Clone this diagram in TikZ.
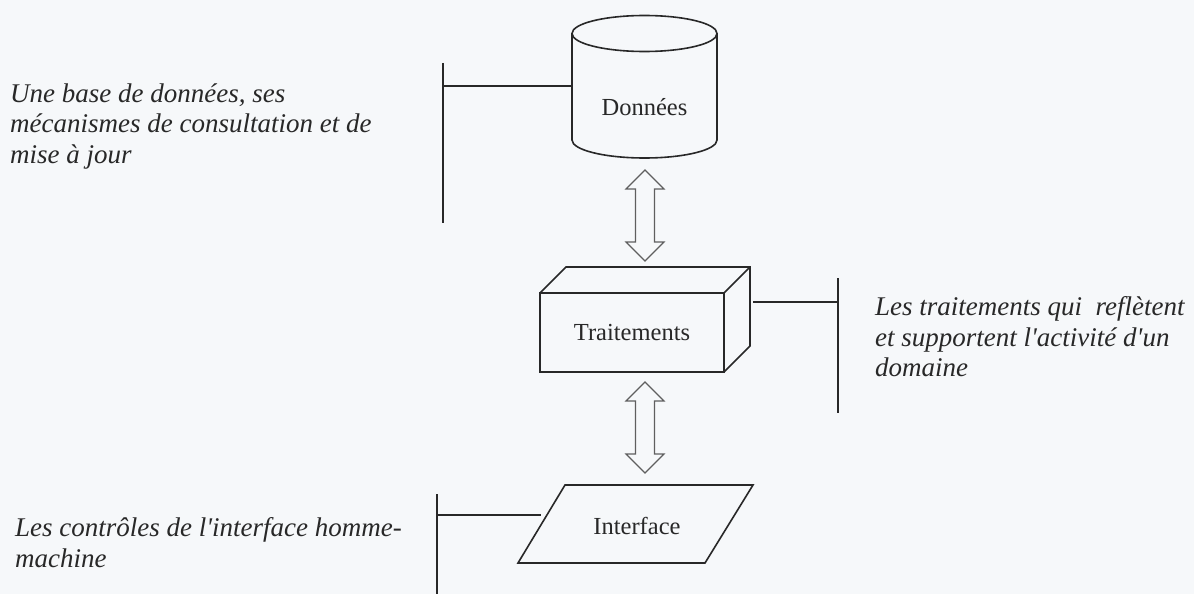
\documentclass[tikz,border=0pt]{standalone}
\usepackage{fontspec}
\setmainfont{Liberation Serif}[Ligatures=TeXOff]
\usetikzlibrary{calc}
\definecolor{paper}{RGB}{246,248,250}
\definecolor{ink}{RGB}{40,40,40}
\definecolor{arrowink}{RGB}{95,95,95}
\newcommand\fatdbl[2]{%
  \draw[fatarrow] let \p1=(#1), \p2=(#2) in
    (\x1,\y1) -- ({\x1+19pt},{\y1-19pt}) -- ({\x1+9.5pt},{\y1-19pt})
    -- ({\x1+9.5pt},{\y2+19pt}) -- ({\x1+19pt},{\y2+19pt}) -- (\x1,\y2)
    -- ({\x1-19pt},{\y2+19pt}) -- ({\x1-9.5pt},{\y2+19pt})
    -- ({\x1-9.5pt},{\y1-19pt}) -- ({\x1-19pt},{\y1-19pt}) -- cycle;}
\begin{document}
\begin{tikzpicture}[x=1pt,y=1pt,
  shapeline/.style={draw=ink, line width=1.6pt, line join=miter},
  conn/.style={draw=ink, line width=1.6pt},
  fatarrow/.style={draw=arrowink, line width=1.1pt, fill=paper},
  lbl/.style={text=ink, font=\fontsize{24.5}{30}\selectfont, inner sep=0pt},
  note/.style={text=ink, font=\itshape\fontsize{27}{30.5}\selectfont, align=left, inner sep=0pt, anchor=north west}]
\fill[paper] (0,0) rectangle (1194,-594);
\useasboundingbox (0,0) rectangle (1194,-594);

% --- cylinder (Données)
\draw[shapeline] (644.5,-33.5) ellipse[x radius=72.5, y radius=18];
\draw[shapeline] (572,-33.5) -- (572,-140)
  arc[start angle=180, end angle=360, x radius=72.5, y radius=18] -- (717,-33.5);
\node[lbl] (db) at (644.5,-107) {Données};

% --- box (Traitements)
\draw[shapeline] (540,-293) rectangle (724,-372);
\draw[shapeline] (540,-293) -- (566,-267) -- (750,-267) -- (750,-346) -- (724,-372)
  (750,-267) -- (724,-293);
\node[lbl] (proc) at (632,-333) {Traitements};

% --- parallelogram (Interface)
\draw[shapeline] (565,-485) -- (753,-485) -- (705,-563) -- (518,-563) -- cycle;
\node[lbl] (ui) at (637,-526) {Interface};

% --- connection points
\coordinate (dbBot) at (645,-170);
\coordinate (procTop) at (645,-261);
\coordinate (procBot) at (645,-382);
\coordinate (uiTop) at (645,-473);
\coordinate (dbLeft) at (572,-86);
\coordinate (barA1) at (443,-63);
\coordinate (barA2) at (443,-223);
\coordinate (barAm) at (443,-86);
\coordinate (procRight) at (753,-302);
\coordinate (barB1) at (838,-278);
\coordinate (barB2) at (838,-413);
\coordinate (barBm) at (838,-302);
\coordinate (uiLeft) at (541,-515);
\coordinate (barC1) at (437,-494);
\coordinate (barC2) at (437,-594);
\coordinate (barCm) at (437,-515);

% --- double arrows
\fatdbl{dbBot}{procTop}
\fatdbl{procBot}{uiTop}

% --- brackets
\draw[conn] (barA1) -- (barA2);
\draw[conn] (barAm) -- (dbLeft);
\draw[conn] (barB1) -- (barB2);
\draw[conn] (procRight) -- (barBm);
\draw[conn] (barC1) -- (barC2);
\draw[conn] (barCm) -- (uiLeft);

% --- notes
\node[note] (n1) at (10,-83.5) {Une base de données, ses\\mécanismes de consultation et de\\mise à jour};
\node[note] (n2) at (875,-296.5) {Les traitements qui\ \ reflètent\\et supportent l'activité d'un\\domaine};
\node[note] (n3) at (15,-517.5) {Les contrôles de l'interface homme-\\machine};
\end{tikzpicture}
\end{document}
